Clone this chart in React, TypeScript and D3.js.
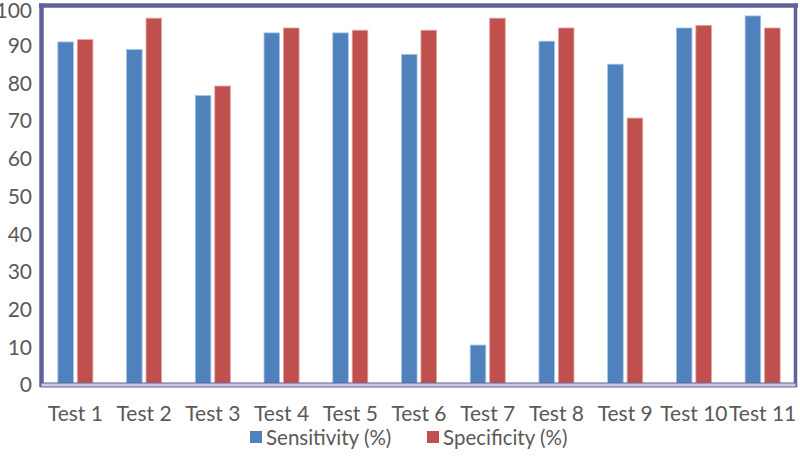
import React from "react";
import * as d3 from "d3";

const tests = ["Test 1","Test 2","Test 3","Test 4","Test 5","Test 6","Test 7","Test 8","Test 9","Test 10","Test 11"];
const seriesNames = ["Sensitivity (%)", "Specificity (%)"];
const sensitivity = [91, 89, 76.8, 93.4, 93.4, 87.7, 10.6, 91.2, 85.1, 94.7, 97.9];
const specificity = [91.6, 97.3, 79.3, 94.7, 94.1, 94.1, 97.3, 94.7, 70.8, 95.4, 94.7];
const yTicks = [0, 10, 20, 30, 40, 50, 60, 70, 80, 90, 100];
const colors = ["#4F81BD", "#C0504D"];

const W = 800, H = 461;
const FONT = "Lato, 'Open Sans', sans-serif";
const TEXT = "#595959";
const FRAME = "#62629a";

export default function App() {
  const x0 = d3.scaleBand<string>().domain(tests).range([41, 797]).paddingInner(0.49).paddingOuter(0.245);
  const x1 = d3.scaleBand<string>().domain(seriesNames).range([0, x0.bandwidth()]).paddingInner(0.2);
  const y = d3.scaleLinear().domain([0, 100]).range([385, 8]);
  const values = [sensitivity, specificity];

  const legendX = [250, 427];

  return (
    <svg width={W} height={H} style={{ position: "absolute", left: 0, top: 0, background: "#fff" }}>
      {tests.map((t, i) => (
        <g key={t}>
          {seriesNames.map((s, j) => (
            <rect
              key={s}
              x={(x0(t) as number) + (x1(s) as number)}
              y={y(values[j][i])}
              width={x1.bandwidth()}
              height={y(0) - y(values[j][i])}
              fill={colors[j]}
              stroke={j === 0 ? "#a9c4e6" : "#e3a4a2"}
              strokeWidth={0.8}
            />
          ))}
        </g>
      ))}
      <line x1={39} x2={798} y1={5.5} y2={5.5} stroke={FRAME} strokeWidth={4.5} />
      <line x1={41.5} x2={41.5} y1={3.5} y2={387} stroke={FRAME} strokeWidth={4.5} />
      <line x1={795.5} x2={795.5} y1={3.5} y2={387} stroke={FRAME} strokeWidth={3.5} />
      <rect x={41} y={383} width={755} height={4} fill="#c9c9e2" stroke={FRAME} strokeWidth={1} />
      {yTicks.map((v) => (
        <text key={v} x={32} y={Math.max(y(v), 10.5)} dy="0.35em" textAnchor="end" fontFamily={FONT} fontSize={21} fill={TEXT}>
          {v}
        </text>
      ))}
      {tests.map((t) => (
        <text key={t} x={(x0(t) as number) + x0.bandwidth() / 2} y={414} dy="0.35em" textAnchor="middle" fontFamily={FONT} fontSize={21} fill={TEXT}>
          {t}
        </text>
      ))}
      {seriesNames.map((s, j) => (
        <g key={s}>
          <rect x={legendX[j]} y={431} width={12} height={12} fill={colors[j]} />
          <text x={legendX[j] + 16} y={438} dy="0.35em" fontFamily={FONT} fontSize={20.5} fill={TEXT}>
            {s}
          </text>
        </g>
      ))}
    </svg>
  );
}
